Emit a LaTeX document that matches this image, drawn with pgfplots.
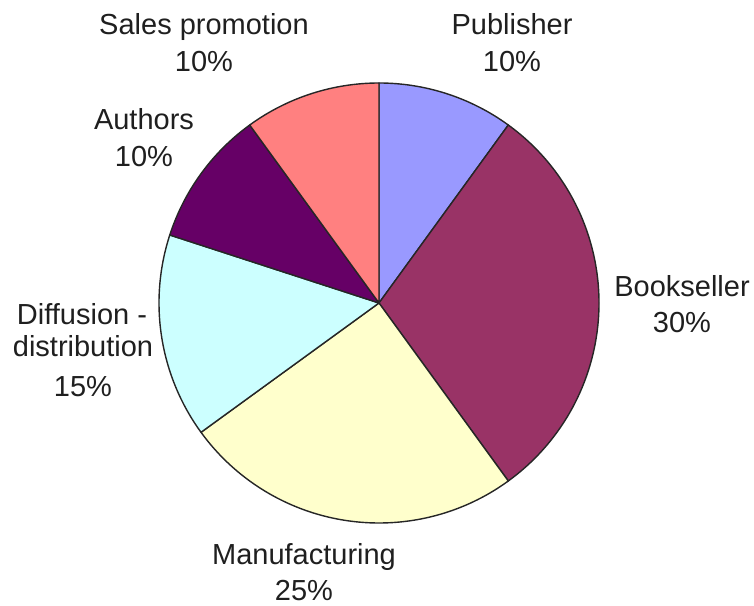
\documentclass[border=0pt]{standalone}
\usepackage{pgfplots}
\usepackage{pgfplotstable}
\usepackage{fontspec}
\setmainfont{Liberation Sans}
\pgfplotsset{compat=1.18}
\definecolor{pubc}{HTML}{9999FF}
\definecolor{bookc}{HTML}{993366}
\definecolor{manc}{HTML}{FFFFCC}
\definecolor{diffc}{HTML}{CCFFFF}
\definecolor{authc}{HTML}{660066}
\definecolor{salesc}{HTML}{FF8080}
\tikzset{lbl/.style={anchor=base, font=\fontsize{14.5}{17}\selectfont, text=black!88, inner sep=0pt}}
\pgfplotstableread{
label value color
Publisher 10 pubc
Bookseller 30 bookc
Manufacturing 25 manc
Diffusion 15 diffc
Authors 10 authc
Sales 10 salesc
}\piedata
\begin{document}
\begin{tikzpicture}
\begin{axis}[hide axis, x=0.5pt, y=0.5pt, xmin=0, xmax=754, ymin=0, ymax=605,
  scale only axis, clip=false]
\draw[draw=none] (axis cs:0,0) rectangle (axis cs:754,605);
\xdef\cum{90}
\pgfplotsinvokeforeach{0,...,5}{
  \pgfplotstablegetelem{#1}{value}\of\piedata
  \pgfmathsetmacro\ea{\cum-3.6*\pgfplotsretval}
  \pgfplotstablegetelem{#1}{color}\of\piedata
  \edef\tmp{\noexpand\filldraw[fill=\pgfplotsretval, draw=black!85, line width=0.7pt, line join=round] (axis cs:379,302) -- ++(\cum:110pt) arc[start angle=\cum, end angle=\ea, radius=110pt] -- cycle;}
  \tmp
  \xdef\cum{\ea}
}
\node[lbl] at (axis cs:204,570) {Sales promotion};
\node[lbl] at (axis cs:204,533) {10\%};
\node[lbl] at (axis cs:512,570) {Publisher};
\node[lbl] at (axis cs:512,533) {10\%};
\node[lbl] at (axis cs:144,475) {Authors};
\node[lbl] at (axis cs:144,438) {10\%};
\node[lbl] at (axis cs:682,308) {Bookseller};
\node[lbl] at (axis cs:682,272) {30\%};
\node[lbl] at (axis cs:82,280) {Diffusion -};
\node[lbl] at (axis cs:83,248) {distribution};
\node[lbl] at (axis cs:83,208) {15\%};
\node[lbl] at (axis cs:304,41) {Manufacturing};
\node[lbl] at (axis cs:304,5) {25\%};
\end{axis}
\end{tikzpicture}
\end{document}
